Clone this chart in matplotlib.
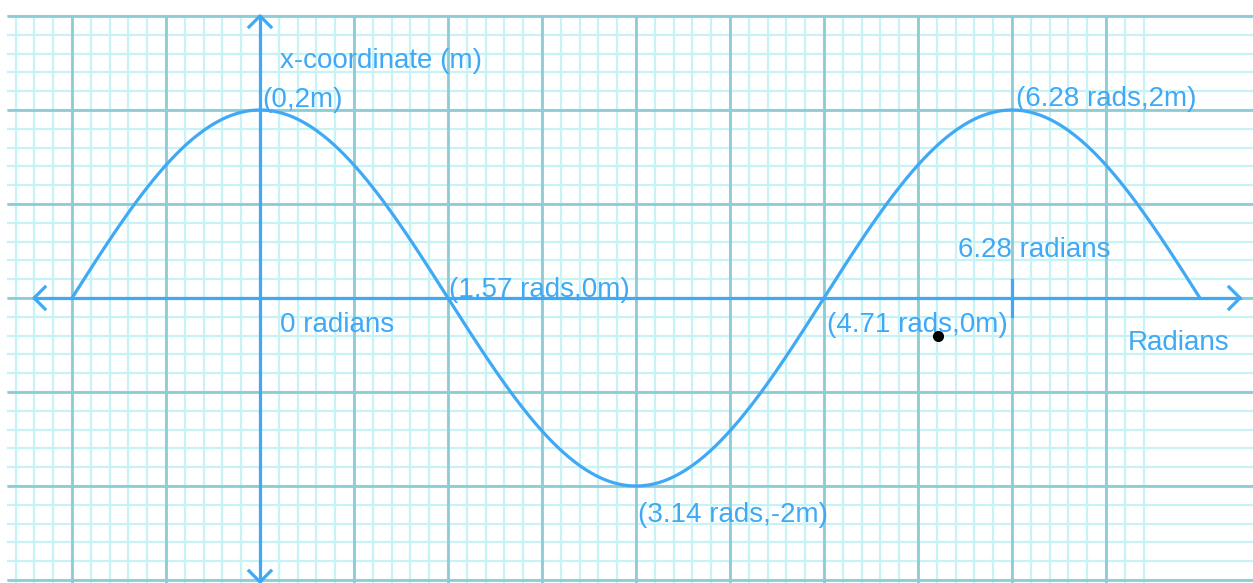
#! /usr/bin/env python3

import numpy as np
import matplotlib.pyplot as plt

plt.rcParams['font.family'] = ['Liberation Sans', 'DejaVu Sans']

# wave data (x-coordinate in metres against angle in radians)
amplitude = 2
theta_start = -1.5708
theta_end = 7.854
key_theta = [0, 1.57, 3.14, 4.71, 6.28]
key_x = [2, 0, -2, 0, 2]
key_labels = ['(0,2m)', '(1.57 rads,0m)', '(3.14 rads,-2m)',
              '(4.71 rads,0m)', '(6.28 rads,2m)']
key_offsets = [(2, 3), (1, 1), (2, -36), (3, -34), (4, 4)]
stray_dot = (5.665, -0.404)

BLUE = '#3fa9f5'
MINOR = '#c8f3f6'
MAJOR = '#8ecbd5'

fig = plt.figure(figsize=(12.53, 5.83), dpi=100)
ax = fig.add_axes([0, 0, 1, 1])
ax.set_xlim(-2.1725, 8.2975)
ax.set_ylim(-3.032, 3.170)
ax.axis('off')

#graph paper
cell = np.pi / 4
gx0, gx1 = -2.114, 8.30
gy0, gy1 = -3.04, 3.0
minor_x = np.arange(-13, 48) * cell / 5
minor_y = np.arange(-15, 16) * 0.2
ax.vlines(minor_x, gy0, gy1, color=MINOR, lw=1.6, zorder=1)
ax.hlines(minor_y, gx0, gx1, color=MINOR, lw=1.6, zorder=1)
ax.vlines(np.arange(-2, 10) * cell, gy0, gy1, color=MAJOR, lw=2.0, zorder=2)
ax.hlines(np.arange(-3, 4), gx0, gx1, color=MAJOR, lw=2.0, zorder=2)

#axes with chevron arrows
px_x = 1 / 119.68
px_y = 1 / 94.0
ax.plot([-1.888, 8.189], [0, 0], color=BLUE, lw=2.3, zorder=4)
ax.plot([0, 0], [-3.02, 3.0], color=BLUE, lw=2.3, zorder=4)
head = 11
ax.plot([-1.888 + head * px_x, -1.888, -1.888 + head * px_x],
        [head * px_y, 0, -head * px_y], color=BLUE, lw=2.3, zorder=4)
ax.plot([8.189 - head * px_x, 8.189, 8.189 - head * px_x],
        [head * px_y, 0, -head * px_y], color=BLUE, lw=2.3, zorder=4)
ax.plot([-head * px_x, 0, head * px_x],
        [3.0 - head * px_y, 3.0, 3.0 - head * px_y], color=BLUE, lw=2.3, zorder=4)
ax.plot([-head * px_x, 0, head * px_x],
        [-3.02 + head * px_y, -3.02, -3.02 + head * px_y], color=BLUE, lw=2.3, zorder=4)
ax.plot([key_theta[-1], key_theta[-1]], [-0.19, 0.19], color=BLUE, lw=2.3, zorder=4)

#the wave
theta = np.linspace(theta_start, theta_end, 600)
ax.plot(theta, amplitude * np.cos(theta), color=BLUE, lw=2.3, zorder=5)

for t, v, lab, off in zip(key_theta, key_x, key_labels, key_offsets):
    ax.annotate(lab, (t, v), xytext=off, textcoords='offset pixels',
                ha='left', va='baseline', color=BLUE, fontsize=20, zorder=6)

ax.annotate('x-coordinate (m)', (0, 2), xytext=(20, 42), textcoords='offset pixels',
            ha='left', va='baseline', color=BLUE, fontsize=20)
ax.annotate('0 radians', (0, 0), xytext=(20, -34), textcoords='offset pixels',
            ha='left', va='baseline', color=BLUE, fontsize=20)
ax.annotate('6.28 radians', (key_theta[-1], 0), xytext=(-54, 41), textcoords='offset pixels',
            ha='left', va='baseline', color=BLUE, fontsize=20)
ax.annotate('Radians', (8.189, 0), xytext=(-112, -52), textcoords='offset pixels',
            ha='left', va='baseline', color=BLUE, fontsize=20)

ax.plot(*stray_dot, 'o', color='black', ms=7, zorder=7)

fig.savefig('out.png', dpi=100)
